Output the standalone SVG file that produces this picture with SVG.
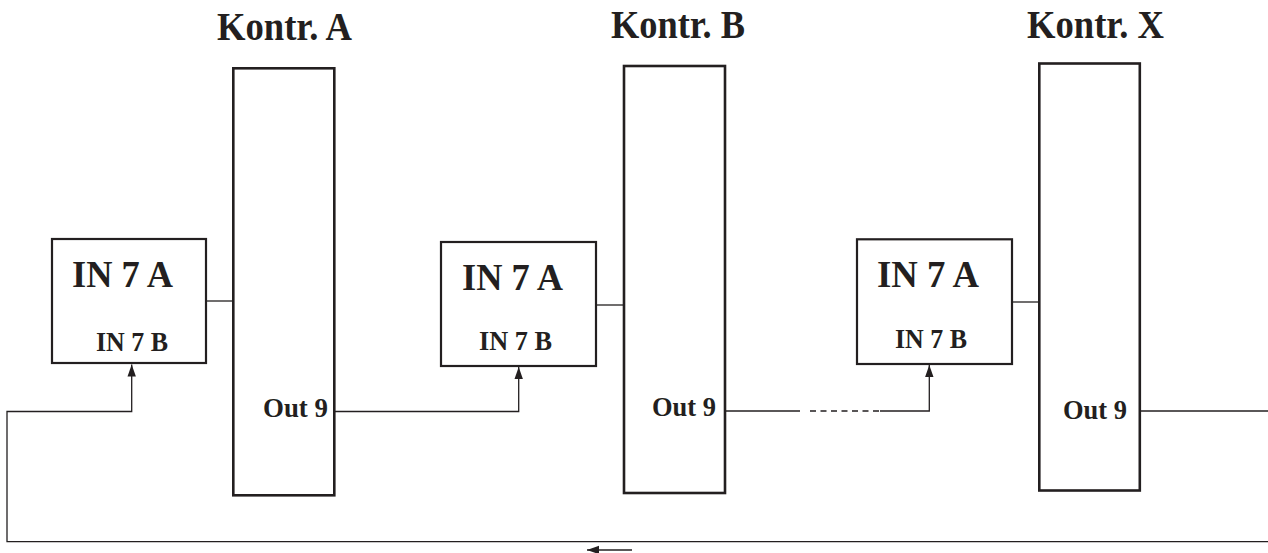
<svg xmlns="http://www.w3.org/2000/svg" width="1268" height="553" viewBox="0 0 1268 553">
<style>
.title{font-family:"Liberation Serif","Times New Roman",serif;font-weight:bold;font-size:40px;fill:#231f20}
.ina{font-family:"Liberation Serif","Times New Roman",serif;font-weight:bold;font-size:38px;fill:#231f20}
.inb{font-family:"Liberation Serif","Times New Roman",serif;font-weight:bold;font-size:27.5px;fill:#231f20}
.out{font-family:"Liberation Serif","Times New Roman",serif;font-weight:bold;font-size:28px;fill:#231f20}
.tall{fill:#fff;stroke:#231f20;stroke-width:2.6}
.small{fill:#fff;stroke:#231f20;stroke-width:2.2}
.wire{fill:none;stroke:#231f20;stroke-width:1.3}
</style>
<defs>
<marker id="arr" markerUnits="userSpaceOnUse" markerWidth="14" markerHeight="10" refX="12" refY="5" orient="auto">
<path d="M0,0.8 L12,5 L0,9.2 Z" fill="#231f20"/>
</marker>
</defs>
<rect width="1268" height="553" fill="#fff"/>
<g id="connectors">
<line class="wire" x1="206" y1="301" x2="233" y2="301"/>
<line class="wire" x1="596" y1="305" x2="624" y2="305"/>
<line class="wire" x1="1012" y1="302" x2="1039" y2="302"/>
<path class="wire" d="M1268,541.7 H7 V411.5 H131.7 V364.5" marker-end="url(#arr)"/>
<path class="wire" d="M334,411.5 H518.7 V367" marker-end="url(#arr)"/>
<line class="wire" x1="725" y1="411" x2="800" y2="411"/>
<line class="wire" x1="810" y1="411" x2="880" y2="411" stroke-dasharray="6,4.5"/>
<path class="wire" d="M880,411 H929.3 V365" marker-end="url(#arr)"/>
<line class="wire" x1="1140" y1="411" x2="1268" y2="411"/>
<line class="wire" x1="632" y1="550" x2="587" y2="550" stroke-width="1.8" marker-end="url(#arr)"/>
</g>
<g id="kontrA">
<rect class="tall" x="233.3" y="68.3" width="101" height="427"/>
<text class="title" x="217" y="40" textLength="135" lengthAdjust="spacingAndGlyphs">Kontr. A</text>
<text class="out" x="263" y="416.7" textLength="65" lengthAdjust="spacingAndGlyphs">Out 9</text>
</g>
<g id="inA">
<rect class="small" x="52" y="239" width="154" height="124"/>
<text class="ina" x="72" y="287" textLength="101" lengthAdjust="spacingAndGlyphs">IN 7 A</text>
<text class="inb" x="96" y="351" textLength="72" lengthAdjust="spacingAndGlyphs">IN 7 B</text>
</g>
<g id="kontrB">
<rect class="tall" x="624" y="66" width="101" height="427"/>
<text class="title" x="611" y="38.3" textLength="134" lengthAdjust="spacingAndGlyphs">Kontr. B</text>
<text class="out" x="652" y="415.7" textLength="64" lengthAdjust="spacingAndGlyphs">Out 9</text>
</g>
<g id="inB">
<rect class="small" x="441" y="242" width="155" height="124"/>
<text class="ina" x="462" y="290" textLength="101" lengthAdjust="spacingAndGlyphs">IN 7 A</text>
<text class="inb" x="479" y="350" textLength="73" lengthAdjust="spacingAndGlyphs">IN 7 B</text>
</g>
<g id="kontrX">
<rect class="tall" x="1039.3" y="63.5" width="100.5" height="427"/>
<text class="title" x="1027" y="38.3" textLength="137" lengthAdjust="spacingAndGlyphs">Kontr. X</text>
<text class="out" x="1063" y="419.3" textLength="64" lengthAdjust="spacingAndGlyphs">Out 9</text>
</g>
<g id="inX">
<rect class="small" x="857" y="239.3" width="155" height="124.7"/>
<text class="ina" x="877" y="287.3" textLength="102" lengthAdjust="spacingAndGlyphs">IN 7 A</text>
<text class="inb" x="895" y="348.3" textLength="72" lengthAdjust="spacingAndGlyphs">IN 7 B</text>
</g>
</svg>
